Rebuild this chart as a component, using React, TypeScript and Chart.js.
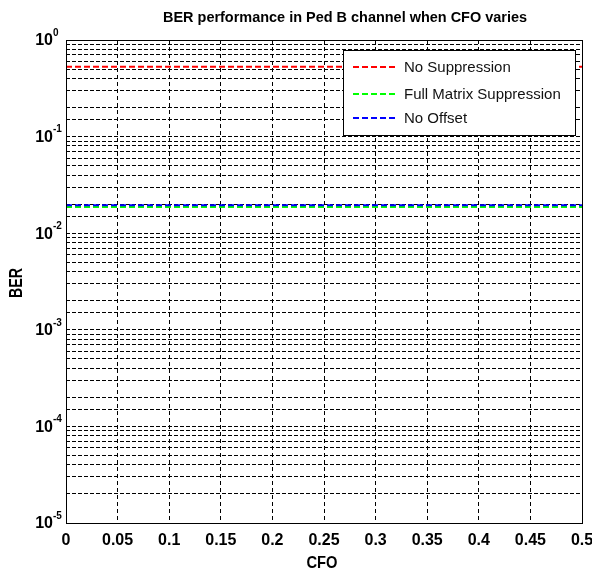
import React, { useEffect, useRef } from 'react';
import { Chart, registerables } from 'chart.js';

Chart.register(...registerables);

const cfo = [0, 0.05, 0.1, 0.15, 0.2, 0.25, 0.3, 0.35, 0.4, 0.45, 0.5];
const noSuppression = [0.53, 0.53, 0.53, 0.53, 0.53, 0.53, 0.53, 0.53, 0.53, 0.53, 0.53];
const fullMatrixSuppression = [0.0187, 0.0187, 0.0187, 0.0187, 0.0187, 0.0187, 0.0187, 0.0187, 0.0187, 0.0187, 0.0187];
const noOffset = [0.0195, 0.0195, 0.0195, 0.0195, 0.0195, 0.0195, 0.0195, 0.0195, 0.0195, 0.0195, 0.0195];
const xTickLabels = ['0', '0.05', '0.1', '0.15', '0.2', '0.25', '0.3', '0.35', '0.4', '0.45', '0.5'];
const yDecades = [1, 0.1, 0.01, 0.001, 0.0001, 0.00001];
const yExponents = ['0', '-1', '-2', '-3', '-4', '-5'];
const seriesNames = ['No Suppression', 'Full Matrix Suppression', 'No Offset'];
const seriesColors = ['#ff0000', '#00ff00', '#0000ff'];
const titleText = 'BER performance in Ped B channel when CFO varies';
const xTitle = 'CFO';
const yTitle = 'BER';

const FONT = '"Liberation Sans", Arial, sans-serif';

function drawScaledText(ctx: CanvasRenderingContext2D, text: string, font: string, cx: number, baseline: number, targetWidth: number) {
  ctx.save();
  ctx.font = font;
  const w = ctx.measureText(text).width;
  const s = targetWidth / w;
  ctx.translate(cx, baseline);
  ctx.scale(s, 1);
  ctx.textAlign = 'center';
  ctx.textBaseline = 'alphabetic';
  ctx.fillStyle = '#000';
  ctx.fillText(text, 0, 0);
  ctx.restore();
}

const decorPlugin = {
  id: 'decor',
  afterDraw(chart: any) {
    const ctx: CanvasRenderingContext2D = chart.ctx;
    const area = chart.chartArea;
    const yScale = chart.scales.y;
    const xScale = chart.scales.x;

    // axes box
    ctx.save();
    ctx.strokeStyle = '#000';
    ctx.lineWidth = 1;
    ctx.setLineDash([]);
    ctx.strokeRect(Math.round(area.left) + 0.5, Math.round(area.top) + 0.5, Math.round(area.right - area.left), Math.round(area.bottom - area.top));
    ctx.restore();

    // x tick labels
    ctx.save();
    ctx.fillStyle = '#000';
    ctx.font = 'bold 16px ' + FONT;
    ctx.textAlign = 'center';
    ctx.textBaseline = 'alphabetic';
    xScale.ticks.forEach((t: any, i: number) => {
      const px = xScale.getPixelForValue(t.value);
      ctx.fillText(xTickLabels[i] ?? String(t.value), px, 545);
    });
    ctx.restore();

    // y tick labels 10^n
    ctx.save();
    ctx.fillStyle = '#000';
    yDecades.forEach((v, i) => {
      const py = yScale.getPixelForValue(v);
      ctx.font = 'bold 16px ' + FONT;
      ctx.textAlign = 'right';
      ctx.textBaseline = 'middle';
      ctx.fillText('10', area.left - 13, py + 1);
      ctx.font = 'bold 10px ' + FONT;
      ctx.textAlign = 'left';
      ctx.textBaseline = 'top';
      ctx.fillText(yExponents[i], area.left - 13, py - 12);
    });
    ctx.restore();

    // title
    drawScaledText(ctx, titleText, 'bold 14px ' + FONT, 345, 22, 364);
    // x title
    drawScaledText(ctx, xTitle, 'bold 17px ' + FONT, 322, 568, 31);
    // y title (rotated)
    ctx.save();
    ctx.translate(22, 283);
    ctx.rotate(-Math.PI / 2);
    drawScaledText(ctx, yTitle, 'bold 18px ' + FONT, 0, 0, 30);
    ctx.restore();

    // legend
    const lx = 343, ly = 50, lw = 232, lh = 85;
    ctx.save();
    ctx.fillStyle = '#fff';
    ctx.fillRect(lx, ly, lw, lh);
    ctx.strokeStyle = '#000';
    ctx.lineWidth = 1;
    ctx.setLineDash([]);
    ctx.strokeRect(lx + 0.5, ly + 0.5, lw, lh);
    const rows = [67, 94, 118];
    chart.data.datasets.forEach((ds: any, i: number) => {
      const ry = rows[i];
      ctx.strokeStyle = ds.borderColor;
      ctx.lineWidth = 2;
      ctx.setLineDash([6, 3]);
      ctx.beginPath();
      ctx.moveTo(353, ry);
      ctx.lineTo(398, ry);
      ctx.stroke();
      ctx.setLineDash([]);
      ctx.fillStyle = '#111';
      ctx.font = '15px ' + FONT;
      ctx.textAlign = 'left';
      ctx.textBaseline = 'middle';
      ctx.fillText(ds.label, 404, ry + 1);
    });
    ctx.restore();
  },
};

export default function App() {
  const ref = useRef<HTMLCanvasElement | null>(null);
  useEffect(() => {
    if (!ref.current) return;
    const series = [noSuppression, fullMatrixSuppression, noOffset];
    const orders = [2, 1, 0];
    const chart = new Chart(ref.current, {
      type: 'line',
      data: {
        datasets: series.map((vals, i) => ({
          label: seriesNames[i],
          data: cfo.map((x, j) => ({ x, y: vals[j] })),
          borderColor: seriesColors[i],
          backgroundColor: seriesColors[i],
          borderWidth: 2,
          borderDash: [6, 3],
          pointRadius: 0,
          fill: false,
          tension: 0,
          order: orders[i],
        })),
      },
      options: {
        animation: false,
        responsive: false,
        devicePixelRatio: 1,
        layout: { padding: { top: 40, right: 10, left: 0, bottom: 0 } },
        plugins: {
          legend: { display: false },
          title: { display: false },
          tooltip: { enabled: false },
        },
        scales: {
          x: {
            type: 'linear',
            min: 0,
            max: 0.5,
            ticks: {
              display: false,
              stepSize: 0.05,
              autoSkip: false,
            },
            grid: { color: '#000', lineWidth: 1, drawTicks: false },
            border: { display: false, dash: [4, 3] },
            afterFit: (s: any) => { s.height = 48; },
          },
          y: {
            type: 'logarithmic',
            min: 0.00001,
            max: 1,
            ticks: { display: false },
            grid: { color: '#000', lineWidth: 1, drawTicks: false },
            border: { display: false, dash: [4, 2] },
            afterFit: (s: any) => { s.width = 66; },
          },
        },
      },
      plugins: [decorPlugin],
    } as any);
    return () => chart.destroy();
  }, []);
  return (
    <div style={{ position: 'absolute', left: 0, top: 0, width: 592, height: 571, background: '#fff' }}>
      <canvas ref={ref} width={592} height={571} style={{ display: 'block' }} />
    </div>
  );
}
